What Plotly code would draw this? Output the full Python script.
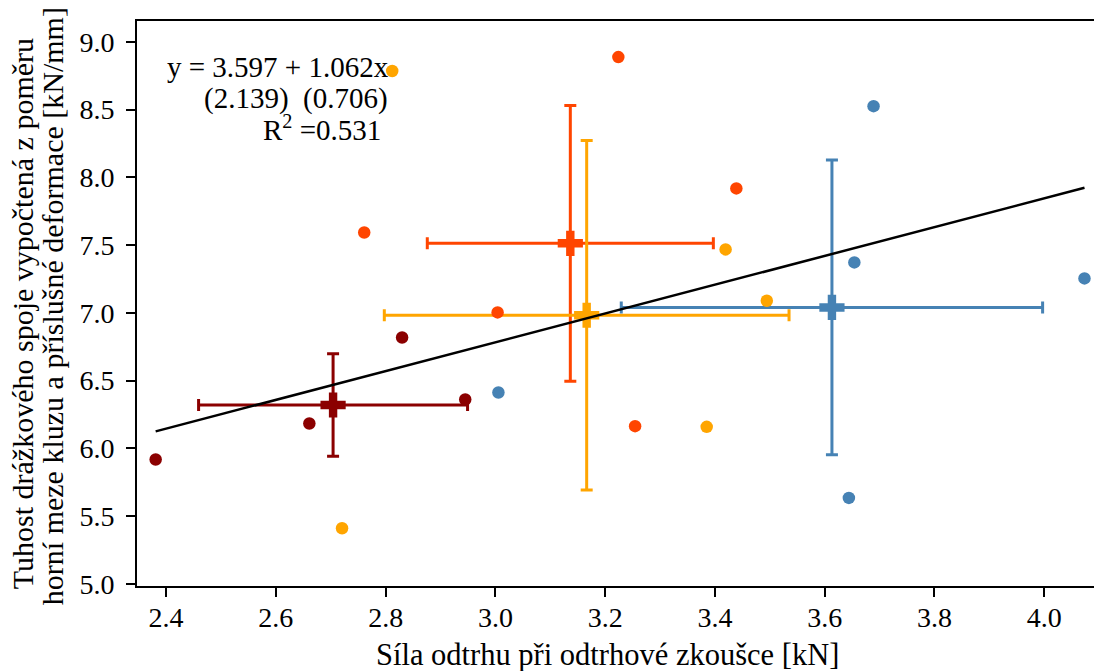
import numpy as np
import plotly.graph_objects as go

# --- data ---
group_colors = ["#8B0000", "#FF4500", "#FFA500", "#4682B4"]

x_darkred = [2.381, 2.661, 2.830, 2.945]
y_darkred = [5.918, 6.184, 6.818, 6.361]

x_orangered = [2.761, 3.224, 3.439, 3.004, 3.2545]
y_orangered = [7.593, 8.887, 7.918, 7.003, 6.164]

x_orange = [2.812, 2.7206, 3.4194, 3.4945, 3.385]
y_orange = [8.784, 5.411, 7.468, 7.089, 6.159]

x_blue = [3.0055, 3.689, 3.654, 4.0733, 3.644]
y_blue = [6.4125, 8.525, 7.372, 7.254, 5.635]

reg_intercept = 3.597
reg_slope = 1.062
reg_text = ["y = 3.597 + 1.062x", "(2.139)  (0.706)", "R<sup>2</sup> =0.531"]

x_ticks = [2.4, 2.6, 2.8, 3.0, 3.2, 3.4, 3.6, 3.8, 4.0]
y_ticks = [5.0, 5.5, 6.0, 6.5, 7.0, 7.5, 8.0, 8.5, 9.0]

x_title = "Síla odtrhu při odtrhové zkoušce [kN]"
y_title_lines = ["Tuhost drážkového spoje vypočtená z poměru",
                 "horní meze kluzu a příslušné deformace [kN/mm]"]

groups = [(x_darkred, y_darkred), (x_orangered, y_orangered),
          (x_orange, y_orange), (x_blue, y_blue)]

FONT = "Liberation Serif"
# the figure is a little wider than the window so that the right frame
# edge falls just outside the visible page, as in the reference crop
W, H = 1100, 671
ML, MR, MT, MB = 137, 2, 21, 85
pw = W - ML - MR
ph = H - MT - MB
X_MIN = 2.347
X_MAX = X_MIN + pw / 550.0


def px_x(p):
    return (p - ML) / pw


def px_y(p):
    return (H - MB - p) / ph


fig = go.Figure()

# group means with standard deviation error bars
for (xs, ys), c in zip(groups, group_colors):
    xa, ya = np.array(xs), np.array(ys)
    fig.add_trace(go.Scatter(
        x=[xa.mean()], y=[ya.mean()], mode="markers",
        marker=dict(symbol="cross", size=21, color=c, line=dict(width=0)),
        error_x=dict(type="data", array=[xa.std(ddof=1)], color=c, thickness=3, width=6),
        error_y=dict(type="data", array=[ya.std(ddof=1)], color=c, thickness=3, width=6),
        showlegend=False, hoverinfo="skip"))

# individual points
for (xs, ys), c in zip(groups, group_colors):
    fig.add_trace(go.Scatter(
        x=xs, y=ys, mode="markers",
        marker=dict(symbol="circle", size=12.5, color=c, line=dict(width=0)),
        showlegend=False))

# regression line over the range of all points
all_x = np.concatenate([np.array(g[0]) for g in groups])
lx = np.array([all_x.min(), all_x.max()])
fig.add_trace(go.Scatter(
    x=lx, y=reg_intercept + reg_slope * lx, mode="lines",
    line=dict(color="black", width=2.5), showlegend=False))

annotations = []
# regression equation text, three lines
for txt, right, cy in zip(reg_text, [392, 391, 384], [67, 99, 128]):
    annotations.append(dict(
        text=txt, xref="paper", yref="paper", x=px_x(right), y=px_y(cy),
        xanchor="right", yanchor="middle", showarrow=False,
        font=dict(family=FONT, size=29, color="black")))

# x axis title
annotations.append(dict(
    text=x_title, xref="paper", yref="paper", x=px_x(608), y=px_y(655),
    xanchor="center", yanchor="middle", showarrow=False,
    font=dict(family=FONT, size=30.5, color="black")))

# y axis title (two lines)
for txt, cx, cy in zip(y_title_lines, [22, 52], [314, 306]):
    annotations.append(dict(
        text=txt, xref="paper", yref="paper", x=px_x(cx), y=px_y(cy),
        xanchor="center", yanchor="middle", textangle=-90, showarrow=False,
        font=dict(family=FONT, size=30, color="black")))

axis_common = dict(showline=True, linecolor="black", linewidth=2, mirror=True,
                   ticks="outside", ticklen=9, tickwidth=2, tickcolor="black",
                   showgrid=False, zeroline=False,
                   tickfont=dict(family=FONT, size=28, color="black"))

fig.update_layout(
    width=W, height=H,
    margin=dict(l=ML, r=MR, t=MT, b=MB),
    paper_bgcolor="white", plot_bgcolor="white",
    xaxis=dict(range=[X_MIN, X_MAX], tickvals=x_ticks,
               ticktext=[f"{v:.1f}" for v in x_ticks],
               ticklabelstandoff=-4, **axis_common),
    yaxis=dict(range=[4.985, 9.153], tickvals=y_ticks,
               ticktext=[f"{v:.1f}" for v in y_ticks],
               ticklabelstandoff=6, **axis_common),
    annotations=annotations,
    font=dict(family=FONT),
)

fig.write_html("out.html", config={"displayModeBar": False},
               post_script="document.body.style.margin='0';"
                           "document.body.style.overflow='hidden';")
